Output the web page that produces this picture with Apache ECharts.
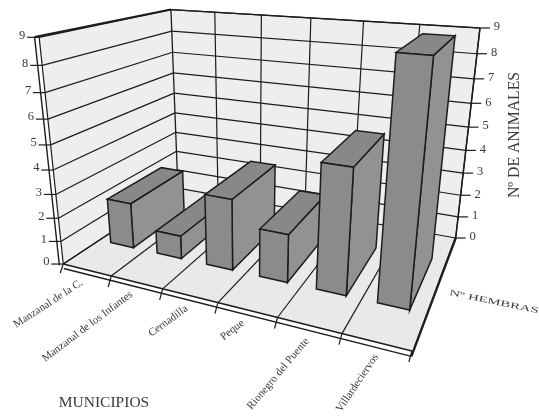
<!DOCTYPE html>
<html><head><meta charset="utf-8">
<style>html,body{margin:0;padding:0;background:#fff}#c{width:539px;height:416px}</style>
<script src="https://cdn.jsdelivr.net/npm/echarts@6/dist/echarts.min.js"></script>
</head><body><div id="c"></div>
<script>
const categories = ['Manzanal de la C.','Manzanal de los Infantes','Cernadilla','Peque','Rionegro del Puente','Villardeciervos'];
const hembras = [2,1,3,2,5,9];
const yTicks = [0,1,2,3,4,5,6,7,8,9];
const yMax = 9;

// camera calibration: [u(category), v(depth), z(value)] -> page pixel
const calib = [
 [0,0,9,41,38],[0,1,9,170,9],[6,1,9,480,28],[0,0,0,63,264],[0,1,0,179,188],[6,1,0,455,238],[6,0,0,412,351],
 [0,0,5,49,144],[0,1,5,174,94],[6,1,5,469,127],[3,0,0,218,303],[3,1,9,311,18]
];
function solve(A,b){const n=b.length;const M=A.map((r,i)=>r.concat(b[i]));
 for(let i=0;i<n;i++){let p=i;for(let k=i+1;k<n;k++)if(Math.abs(M[k][i])>Math.abs(M[p][i]))p=k;[M[i],M[p]]=[M[p],M[i]];
  for(let k=0;k<n;k++)if(k!==i){const f=M[k][i]/M[i][i];for(let j=i;j<=n;j++)M[k][j]-=f*M[i][j];}}
 return M.map((r,i)=>r[n]/r[i]);}
const cam=(function(){const rows=[],rhs=[];calib.forEach(([u,v,z,x,y])=>{
  rows.push([u,v,z,1,0,0,0,0,-x*u,-x*v,-x*z]);rhs.push(x);
  rows.push([0,0,0,0,u,v,z,1,-y*u,-y*v,-y*z]);rhs.push(y);});
 const N=Array.from({length:11},(_,i)=>Array.from({length:11},(_,j)=>rows.reduce((s,r)=>s+r[i]*r[j],0)));
 const t=Array.from({length:11},(_,i)=>rows.reduce((s,r,k)=>s+r[i]*rhs[k],0));
 return solve(N,t);})();
function P(u,v,z){const w=cam[8]*u+cam[9]*v+cam[10]*z+1;
 return [(cam[0]*u+cam[1]*v+cam[2]*z+cam[3])/w,(cam[4]*u+cam[5]*v+cam[6]*z+cam[7])/w];}

const INK='#1c1c1c', TXT='#3a3a3a', SERIF='"Liberation Serif",serif';
const WALL='#eeeeee', FLOOR='#e9e9e9', BAR_F='#8b8b8b', BAR_T='#888888', BAR_S='#929292';
const GAP=0.25, V0=0.265, V1=0.735;
const labelAngle=[33,37,36,37,50,56];
const labelShift=[[-5,12],[-5,11],[-3,12],[-4,12],[-2,14],[0,13]];
const fontPx=11;

const line=(a,b,w)=>({type:'line',shape:{x1:a[0],y1:a[1],x2:b[0],y2:b[1]},style:{stroke:INK,lineWidth:w||1.2,fill:null}});
const poly=(pts,fill,sw)=>({type:'polygon',shape:{points:pts},style:{fill,stroke:sw?INK:null,lineWidth:sw||0}});
const text=(s,x,y,o)=>Object.assign({type:'text',x,y,rotation:(o.rot||0)*Math.PI/180,scaleX:o.sx||1,
 style:{text:s,fill:o.fill||TXT,font:(o.size||12)+'px '+SERIF,align:o.align||'center',verticalAlign:'middle'}});

// library scale -> (u, z)
function uz(api,params,cat,val){const c=api.coord([cat,val]),cs=params.coordSys;
 return [(c[0]-cs.x)/cs.width*categories.length,(cs.y+cs.height-c[1])/cs.height*yMax];}

const renderWalls=(params,api)=>{const n=categories.length;
 return {type:'group',children:[
  poly([P(0,0,0),P(0,1,0),P(0,1,yMax),P(0,0,yMax)],WALL),
  poly([P(0,1,0),P(n,1,0),P(n,1,yMax),P(0,1,yMax)],WALL),
  poly([P(0,0,0),P(n,0,0),P(n,1,0),P(0,1,0)],FLOOR),
  line(P(0,0,yMax),P(0,0,0),1.2),
  line(P(-0.09,0,yMax),P(-0.09,0,-0.1),1.4),
  line(P(-0.09,0,yMax),P(0,1,yMax),2),
  line(P(0,1,yMax),P(n,1,yMax),1.3),
  line(P(0,1,yMax),P(0,1,0),1.3),
  line(P(n,1,yMax),P(n,1,0),1.5),
  line(P(0,0,0),P(n,0,0),1.4),
  line(P(0,0,-0.2),P(n,0,-0.2),1.4),
  line(P(n,0,-0.2),P(n,1,0),2.4),
  line(P(0,0,0),P(0,1,0),1.2)
 ]};};

const renderValueGrid=(params,api)=>{const n=categories.length,t=api.value(1),z=uz(api,params,0,t)[1];
 const l=P(0,0,z),b=P(0,1,z),r=P(n,1,z);
 const kids=[line(l,b),line(b,r),
  line([l[0]-12,l[1]],l,1.2),line(r,[r[0]+10,r[1]],1.2),
  text(String(t),l[0]-17,l[1]-2,{size:12.5}),
  text(String(t),r[0]+17,r[1]-1,{size:12.5})];
 return {type:'group',children:kids};};

const renderCategoryGrid=(params,api)=>{const i=api.value(0),n=categories.length;
 const u=uz(api,params,i,0)[0]-0.5;           // band left edge
 const kids=[];
 kids.push(line(P(u+1,1,0),P(u+1,1,yMax)));
 if(i<n-1)kids.push(line(P(u+1,0,0),P(u+1,1,0)));
 const tickTop=P(u+1,0,0);kids.push(line(tickTop,[tickTop[0]-3,tickTop[1]+11],1.2));
 if(i===0){const t=P(0,0,0);kids.push(line(t,[t[0]-3,t[1]+9],1.2));}
 const a=P(u+0.5,0,0),s=labelShift[i];
 kids.push(text(categories[i],a[0]+s[0],a[1]+s[1],{size:fontPx,align:'right',rot:labelAngle[i]}));
 return {type:'group',children:kids};};

const renderBars=(params,api)=>{const cat=api.value(0),val=api.value(1);
 const [um,z]=uz(api,params,cat,val),hw=api.size([1,0])[0]/params.coordSys.width*categories.length*(0.5-GAP);
 const a=um-hw,b=um+hw;
 return {type:'group',children:[
  poly([P(b,V0,0),P(b,V1,0),P(b,V1,z),P(b,V0,z)],BAR_S,1.5),
  poly([P(a,V0,z),P(b,V0,z),P(b,V1,z),P(a,V1,z)],BAR_T,1.5),
  poly([P(a,V0,0),P(b,V0,0),P(b,V0,z),P(a,V0,z)],BAR_F,1.5)
 ]};};

const renderTitles=()=>({type:'group',children:[
  text('Nº DE ANIMALES',515,135,{size:15.7,rot:90}),
  text('MUNICIPIOS',104,403,{size:15.5}),
  text('Nº HEMBRAS',494,302,{size:8.5,rot:-11.5,sx:1.75})
]});

const base={type:'custom',coordinateSystem:'cartesian2d',clip:false,silent:true,animation:false};
const chart=echarts.init(document.getElementById('c'),null,{renderer:'canvas'});
chart.setOption({
 animation:false,backgroundColor:'#ffffff',tooltip:{show:false},
 grid:{left:0,right:0,top:0,bottom:0},
 xAxis:{type:'category',data:categories,show:false},
 yAxis:{type:'value',min:0,max:yMax,interval:1,show:false},
 series:[
  Object.assign({},base,{name:'paredes',data:[[0,0]],renderItem:renderWalls,encode:{x:0,y:1}}),
  Object.assign({},base,{name:'valores',data:yTicks.map(t=>[0,t]),renderItem:renderValueGrid,encode:{x:0,y:1}}),
  Object.assign({},base,{name:'municipios',data:categories.map((c,i)=>[i,0]),renderItem:renderCategoryGrid,encode:{x:0,y:1}}),
  Object.assign({},base,{name:'Nº de animales',data:hembras.map((v,i)=>[i,v]),renderItem:renderBars,encode:{x:0,y:1}}),
  Object.assign({},base,{name:'titulos',data:[[0,0]],renderItem:renderTitles,encode:{x:0,y:1}})
 ]
});
</script></body></html>
